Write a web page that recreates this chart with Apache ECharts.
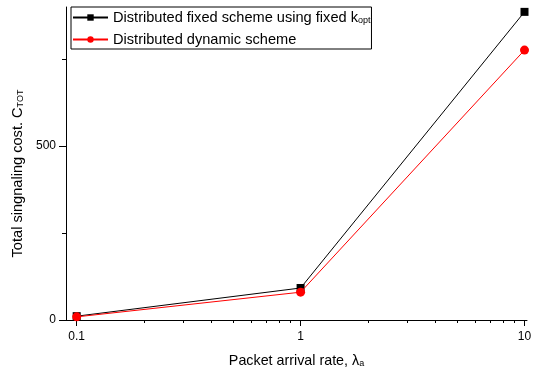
<!DOCTYPE html>
<html>
<head>
<meta charset="utf-8">
<script src="https://cdn.jsdelivr.net/npm/echarts@6/dist/echarts.min.js"></script>
<style>html,body{margin:0;padding:0;background:#fff;}#c{width:543px;height:369px;}</style>
</head>
<body>
<div id="c"></div>
<script>
const arrivalRates = [0.1, 1, 10];
const fixedScheme = [11, 92, 886];
const dynamicScheme = [9, 80, 776];
const xMajorTicks = [0.1, 1, 10];
const xMinorTicks = [0.2, 0.3, 0.4, 0.5, 0.6, 0.7, 0.8, 0.9, 2, 3, 4, 5, 6, 7, 8, 9];
const yMajorTicks = [0, 500];
const yMinorTicks = [250, 750];
const xRange = [0.0896, 10.26];
const yRange = [0, 900];

const chart = echarts.init(document.getElementById('c'));
const font = 'Liberation Sans, Arial, sans-serif';
const sub = { fontSize: 9, fontFamily: font, color: '#000', verticalAlign: 'bottom', lineHeight: 3 };
const lxMin = Math.log10(xRange[0]), lxMax = Math.log10(xRange[1]);

chart.setOption({
  animation: false,
  backgroundColor: '#fff',
  textStyle: { fontFamily: font },
  grid: { left: 66, right: 16, top: 7, bottom: 49, containLabel: false, outerBoundsMode: 'none' },
  legend: {
    orient: 'vertical',
    left: 71, top: 7,
    itemWidth: 35, itemHeight: 8, itemGap: 7,
    padding: [3, 1, 2, 1],
    borderColor: '#000', borderWidth: 1, backgroundColor: '#fff',
    textStyle: { fontSize: 14.6, color: '#000', fontFamily: font, rich: { s: sub } },
    formatter: function (n) {
      return n === 'fixed' ? 'Distributed fixed scheme using fixed k{s|opt}' : 'Distributed dynamic scheme';
    },
    data: ['fixed', 'dynamic']
  },
  xAxis: [
    {
      type: 'log', min: xRange[0], max: xRange[1], logBase: 10,
      axisLine: { onZero: false, lineStyle: { color: '#000', width: 1 } },
      axisTick: { show: false }, axisLabel: { show: false }, splitLine: { show: false }, minorTick: { show: false },
      name: 'Packet arrival rate, λ{s|a}', nameLocation: 'middle', nameGap: 34,
      nameTextStyle: { fontSize: 14.3, color: '#000', fontFamily: font, rich: { s: sub } }
    },
    {
      type: 'value', min: lxMin, max: lxMax, position: 'bottom',
      axisLine: { show: false, onZero: false }, splitLine: { show: false },
      axisTick: { show: true, length: 6, customValues: xMajorTicks.map(Math.log10), lineStyle: { color: '#000' } },
      axisLabel: { show: true, margin: 11, fontSize: 12, color: '#000', fontFamily: font,
        customValues: xMajorTicks.map(Math.log10),
        formatter: function (v) { return String(xMajorTicks.find(t => Math.abs(Math.log10(t) - v) < 1e-6)); } }
    },
    {
      type: 'value', min: lxMin, max: lxMax, position: 'bottom',
      axisLine: { show: false, onZero: false }, splitLine: { show: false }, axisLabel: { show: false },
      axisTick: { show: true, length: 3, customValues: xMinorTicks.map(Math.log10), lineStyle: { color: '#000' } }
    }
  ],
  yAxis: [
    {
      type: 'value', min: yRange[0], max: yRange[1], position: 'left',
      axisLine: { show: true, onZero: false, lineStyle: { color: '#000', width: 1 } },
      splitLine: { show: false },
      axisTick: { show: true, length: 7, customValues: yMajorTicks, lineStyle: { color: '#000' } },
      axisLabel: { show: true, margin: 10, fontSize: 12, color: '#000', fontFamily: font, customValues: yMajorTicks },
      name: 'Total singnaling cost. C{s|TOT}', nameLocation: 'middle', nameGap: 31,
      nameTextStyle: { fontSize: 14.6, color: '#000', fontFamily: font, rich: { s: sub }, padding: [0, 20, 0, 0] }
    },
    {
      type: 'value', min: yRange[0], max: yRange[1], position: 'left',
      axisLine: { show: false, onZero: false }, splitLine: { show: false }, axisLabel: { show: false },
      axisTick: { show: true, length: 4, customValues: yMinorTicks, lineStyle: { color: '#000' } }
    }
  ],
  series: [
    {
      name: 'fixed', type: 'line', xAxisIndex: 0, yAxisIndex: 0,
      data: arrivalRates.map((x, i) => [x, fixedScheme[i]]),
      symbol: 'rect', symbolSize: 8, showSymbol: true,
      lineStyle: { color: '#000', width: 1 }, itemStyle: { color: '#000' }, z: 2
    },
    {
      name: 'dynamic', type: 'line', xAxisIndex: 0, yAxisIndex: 0,
      data: arrivalRates.map((x, i) => [x, dynamicScheme[i]]),
      symbol: 'circle', symbolSize: 9, showSymbol: true,
      lineStyle: { color: '#ff0000', width: 1 }, itemStyle: { color: '#ff0000' }, z: 3
    }
  ]
});
</script>
</body>
</html>
